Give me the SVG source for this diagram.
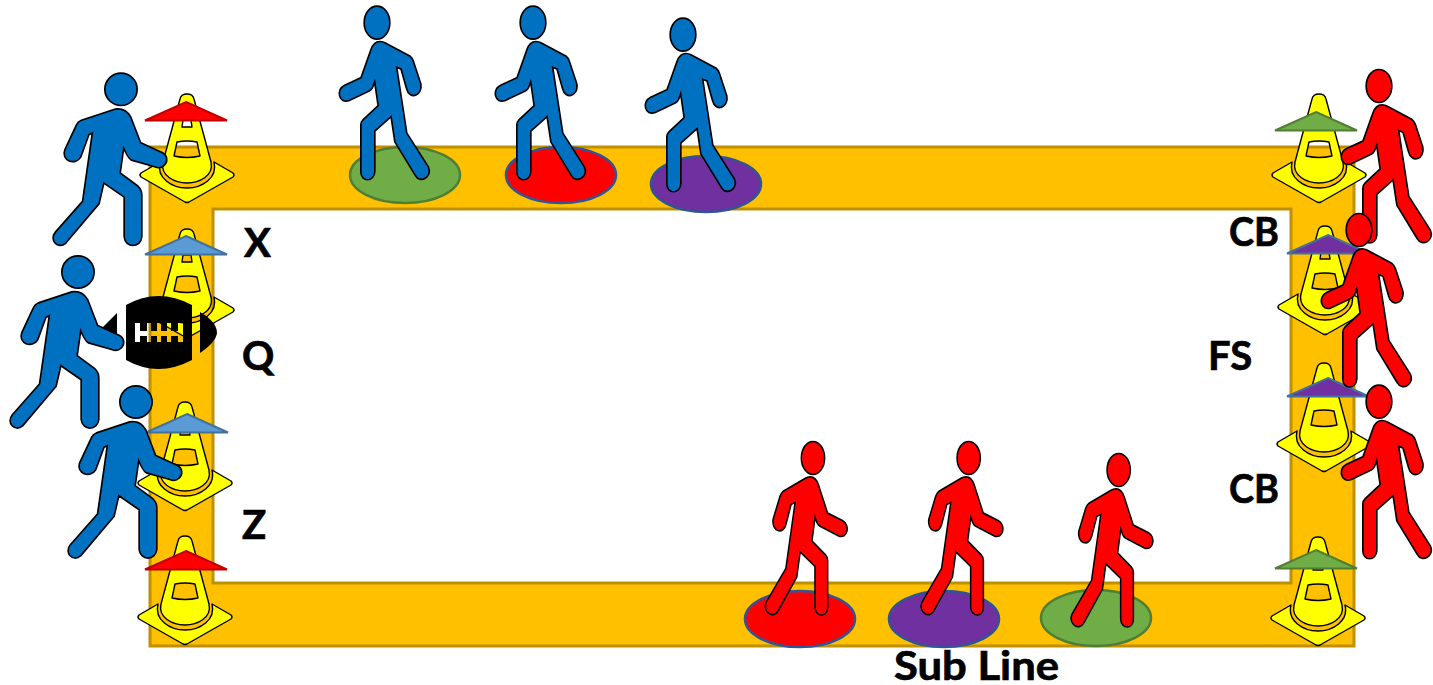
<svg xmlns="http://www.w3.org/2000/svg" xmlns:xlink="http://www.w3.org/1999/xlink" width="1433" height="685" viewBox="0 0 1433 685">
<style>
.lbl{font-family:"Lato","Open Sans",sans-serif;font-weight:700;font-size:40px;fill:#000;stroke:#000;stroke-width:.7}
.fig{stroke:#000;stroke-width:10;stroke-linejoin:round;paint-order:stroke}
.blue{fill:#0070C0}.redf{fill:#FF0000}
.o{stroke:#BF9000;stroke-width:3;fill:#FFC000;fill-rule:evenodd}
.hr{fill:#FF0000;stroke:#C00000;stroke-width:2}
.hb{fill:#5B9BD5;stroke:#41719C;stroke-width:2}
.hg{fill:#70AD47;stroke:#507E32;stroke-width:2}
.hp{fill:#7030A0;stroke:#41719C;stroke-width:2}
.eg{fill:#70AD47;stroke:#507E32;stroke-width:2.500}
.er{fill:#FF0000;stroke:#2F5597;stroke-width:2.500}
.ep{fill:#7030A0;stroke:#2F5597;stroke-width:2.500}
.c{fill:#FFFF00;stroke:#000;stroke-width:1.400;fill-rule:evenodd;stroke-linejoin:round}
</style>
<defs>
<g id="cone">
<path class="c" d="M-27,68 L-46,79 Q-48,81 -46,83 L-2,108 Q0,109 2,108 L46,83 Q48,81 46,79 L27,68 C31,84 15,94 0,94 C-15,94 -31,84 -27,68Z"/>
<path class="c" d="M-7,5 Q-6,0 0,0 Q6,0 7,5 L24,68 C27,82 12,89 0,89 C-12,89 -27,82 -24,68Z M-4,26 L-5,33 L5,33 L4,26Z M-10,48 L-13,62 Q0,65 13,62 L10,48 Q0,46 -10,48Z"/>
</g>
<path id="hat" d="M0,0 L41,18.500 L-41,18.500Z"/>
<g id="runner">
<circle cx="363" cy="88" r="46"/>
<path d="M345,150 C365,147 380,155 390,172 L420,250 L485,280 C500,287 502,305 490,315 C483,322 475,322 465,318 L395,298 C385,292 378,275 370,255 L358,340 L412,380 C420,388 423,395 423,405 L423,530 C420,562 378,562 375,530 L375,410 L310,365 L295,430 L195,548 C175,565 150,540 168,518 L250,425 L280,215 L265,222 L240,290 C225,315 185,300 197,270 L232,195 C235,188 240,185 245,183Z"/>
</g>
<g id="walker">
<ellipse cx="141" cy="68" rx="36" ry="47"/>
<path d="M150,127 C155,127 160,128 165,131 L238,170 C243,174 246,180 248,185 L270,252 C276,285 240,298 232,265 L215,205 L197,198 L228,400 L293,502 C305,530 270,548 258,525 L197,425 L185,345 L132,392 L132,515 C130,544 95,544 95,515 L95,375 C95,368 98,364 102,360 L147,318 L135,235 L128,255 C125,265 120,270 112,273 L55,300 C30,308 20,270 45,258 L95,235 L125,150 C130,135 140,127 150,127Z"/>
</g>
</defs>

<g id="frame"><path class="o" d="M150,147H1354V646H150Z M213,209V583H1291V209Z"/></g>

<g id="spots">
<ellipse id="spot-top-green" class="eg" cx="405" cy="175" rx="55" ry="28"/>
<ellipse id="spot-top-red" class="er" cx="561" cy="175" rx="55" ry="28"/>
<ellipse id="spot-top-purple" class="ep" cx="706" cy="184" rx="55" ry="28"/>
<ellipse id="spot-bottom-red" class="er" cx="800" cy="619" rx="55" ry="28"/>
<ellipse id="spot-bottom-purple" class="ep" cx="944" cy="619" rx="55" ry="28"/>
<ellipse id="spot-bottom-green" class="eg" cx="1096" cy="618" rx="55" ry="28"/>
</g>

<g id="cones">
<g id="cone-1"><use xlink:href="#cone" transform="translate(187,94)"/><use xlink:href="#hat" class="hr" transform="translate(186,102)"/></g>
<g id="cone-2"><use xlink:href="#cone" transform="translate(187,229)"/><use xlink:href="#hat" class="hb" transform="translate(186,236)"/></g>
<g id="cone-3"><use xlink:href="#cone" transform="translate(185,402)"/><use xlink:href="#hat" class="hb" transform="translate(187,414)"/></g>
<g id="cone-4"><use xlink:href="#cone" transform="translate(185,536)"/><use xlink:href="#hat" class="hr" transform="translate(186,551)"/></g>
<g id="cone-5"><use xlink:href="#cone" transform="translate(1319,94)"/><use xlink:href="#hat" class="hg" transform="translate(1316,112)"/></g>
<g id="cone-6"><use xlink:href="#cone" transform="translate(1325,226)"/><use xlink:href="#hat" class="hp" transform="translate(1328,235)"/></g>
<g id="cone-7"><use xlink:href="#cone" transform="translate(1324,363)"/><use xlink:href="#hat" class="hp" transform="translate(1328,378)"/></g>
<g id="cone-8"><use xlink:href="#cone" transform="translate(1318,537)"/><use xlink:href="#hat" class="hg" transform="translate(1316,550)"/></g>
</g>

<g id="football">
<path fill="#000" fill-rule="evenodd" d="M126,305 Q158,287 192,305 V360 Q158,378 126,360Z M135,323H140V331H147V323H151V331H157V323H161V331H167V323H171V331H178V323H183V342H178V336H171V342H167V336H161V342H157V336H151V342H147V336H140V342H135Z"/>
<path fill="#000" d="M117,313 V344 L101,329Z"/>
<path fill="#000" d="M200,312 Q217,322 217,333 Q216,342 200,353Z"/>
</g>

<g id="players-blue">
<use id="x-player" class="fig blue" xlink:href="#runner" transform="translate(0,60) scale(.3333)"/>
<use id="q-player" class="fig blue" xlink:href="#runner" transform="translate(-43,242.700) scale(.3333)"/>
<use id="z-player" class="fig blue" xlink:href="#runner" transform="translate(15,372.700) scale(.3333)"/>
<use id="sub-blue-1" class="fig blue" xlink:href="#walker" transform="translate(330,0) scale(.3333)"/>
<use id="sub-blue-2" class="fig blue" xlink:href="#walker" transform="translate(486,0) scale(.3333)"/>
<use id="sub-blue-3" class="fig blue" xlink:href="#walker" transform="translate(636,12) scale(.3333)"/>
</g>
<g id="players-red">
<use id="cb-top" class="fig redf" xlink:href="#walker" transform="translate(1332,63.300) scale(.3333)"/>
<use id="fs" class="fig redf" xlink:href="#walker" transform="translate(1312,207.300) scale(.3333)"/>
<use id="cb-bottom" class="fig redf" xlink:href="#walker" transform="translate(1332,379) scale(.3333)"/>
<use id="sub-red-1" class="fig redf" xlink:href="#walker" transform="translate(855.700,435.300) scale(-.303,.3333)"/>
<use id="sub-red-2" class="fig redf" xlink:href="#walker" transform="translate(1011.400,435.300) scale(-.303,.3333)"/>
<use id="sub-red-3" class="fig redf" xlink:href="#walker" transform="translate(1161.400,447.300) scale(-.303,.3333)"/>
</g>

<g id="labels">
<text class="lbl" x="244" y="257">X</text>
<text class="lbl" x="242" y="370">Q</text>
<text class="lbl" x="242" y="539">Z</text>
<text class="lbl" x="1229" y="246" textLength="50" lengthAdjust="spacingAndGlyphs">CB</text>
<text class="lbl" x="1208" y="370">FS</text>
<text class="lbl" x="1229" y="503" textLength="50" lengthAdjust="spacingAndGlyphs">CB</text>
<text class="lbl" x="894" y="680" textLength="165" lengthAdjust="spacingAndGlyphs">Sub Line</text>
</g>
<g id="connectors"/>
</svg>
